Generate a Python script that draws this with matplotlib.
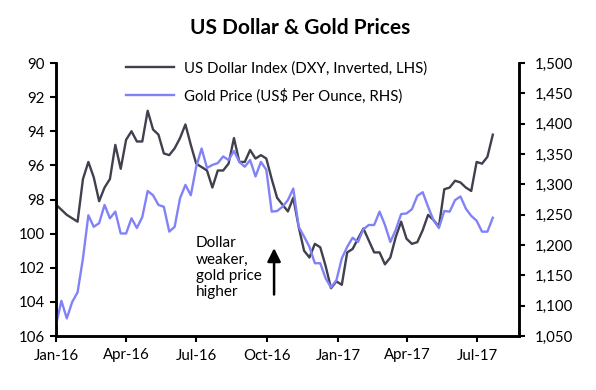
import matplotlib
matplotlib.use("Agg")
import matplotlib.pyplot as plt
import matplotlib.dates as mdates
import pandas as pd
from matplotlib.ticker import FuncFormatter, MultipleLocator

plt.rcParams['font.family'] = ['Lato', 'DejaVu Sans']

dates = pd.date_range("2016-01-01", periods=82, freq="7D")

dxy = [98.3, 98.6, 98.9, 99.1, 99.3, 96.8, 95.8, 96.7, 98.1, 97.3,
       96.8, 94.8, 96.2, 94.5, 94.0, 94.6, 94.6, 92.8, 93.9, 94.2,
       95.3, 95.4, 95.0, 94.4, 93.6, 94.8, 95.9, 96.1, 96.3, 97.3,
       96.3, 96.3, 95.9, 94.4, 95.8, 95.8, 95.1, 95.6, 95.4, 95.6,
       96.8, 97.9, 98.3, 98.7, 97.9, 99.6, 101.0, 101.4, 100.6, 100.8,
       101.9, 103.2, 102.8, 103.0, 101.1, 100.9, 100.3, 99.7, 100.4, 101.1,
       101.1, 101.8, 101.4, 100.2, 99.3, 100.3, 100.6, 100.5, 99.8, 98.9,
       99.2, 99.6, 97.4, 97.3, 96.9, 97.0, 97.3, 97.5, 95.8, 95.9,
       95.5, 94.2]

gold = [1068, 1108, 1079, 1106, 1122, 1178, 1249, 1230, 1236, 1266,
        1244, 1255, 1219, 1219, 1244, 1228, 1246, 1289, 1282, 1266,
        1263, 1222, 1230, 1277, 1299, 1282, 1329, 1359, 1327, 1332,
        1335, 1346, 1340, 1355, 1337, 1329, 1340, 1313, 1337, 1324,
        1255, 1256, 1263, 1274, 1293, 1230, 1214, 1197, 1170, 1170,
        1145, 1130, 1142, 1178, 1197, 1212, 1205, 1226, 1233, 1233,
        1255, 1233, 1205, 1225, 1251, 1252, 1259, 1281, 1287, 1263,
        1241, 1228, 1256, 1255, 1274, 1280, 1260, 1248, 1240, 1222,
        1222, 1245]

title = "US Dollar & Gold Prices"
label_dxy = "US Dollar Index (DXY, Inverted, LHS)"
label_gold = "Gold Price (US$ Per Ounce, RHS)"
note = "Dollar\nweaker,\ngold price\nhigher"

c_dxy = "#40404e"
c_gold = "#8282f8"

fig = plt.figure(figsize=(5.96, 3.90), dpi=100)
ax = fig.add_axes([56/596, 1-336/390, (519-56)/596, (336-63)/390])
ax2 = ax.twinx()

l1, = ax.plot(dates, dxy, color=c_dxy, lw=1.7, label=label_dxy)
l2, = ax2.plot(dates, gold, color=c_gold, lw=1.7, label=label_gold)

ax.set_ylim(106, 90)
ax.yaxis.set_major_locator(MultipleLocator(2))
ax2.set_ylim(1050, 1500)
ax2.yaxis.set_major_locator(MultipleLocator(50))
ax2.yaxis.set_major_formatter(FuncFormatter(lambda v, p: f"{int(v):,}"))

ax.set_xlim(pd.Timestamp("2016-01-01"), pd.Timestamp("2017-08-24"))
ax.xaxis.set_major_locator(mdates.MonthLocator(bymonth=[1, 4, 7, 10]))
ax.xaxis.set_major_formatter(mdates.DateFormatter("%b-%y"))

for a in (ax, ax2):
    a.spines['top'].set_visible(False)
    for s in ('left', 'right', 'bottom'):
        a.spines[s].set_linewidth(1.8)
        a.spines[s].set_color('black')
    a.tick_params(length=4, width=1.5, labelsize=10.8, colors='black')
ax.tick_params(axis='y', pad=4)
ax.tick_params(axis='x', pad=5)
ax2.tick_params(axis='y', pad=7)

ax.legend([l1, l2], [label_dxy, label_gold], loc='upper left',
          bbox_to_anchor=(0.152, 1.006), frameon=False, fontsize=10.8,
          handlelength=3.2, handletextpad=0.65, labelspacing=0.85,
          borderpad=0, borderaxespad=0)

fig.text(0.503, 0.928, title, ha='center', va='center', fontsize=15,
         fontweight='bold')

ax.text(0.302, 0.365, note, transform=ax.transAxes, ha='left', va='top',
        fontsize=11, linespacing=1.2)
ax.annotate("", xy=(0.471, 0.322), xytext=(0.471, 0.152),
            xycoords='axes fraction', textcoords='axes fraction',
            arrowprops=dict(arrowstyle='-|>,head_length=0.8,head_width=0.4',
                            color='black', lw=1.8, shrinkA=0, shrinkB=0))

fig.savefig("out.png", dpi=100)
